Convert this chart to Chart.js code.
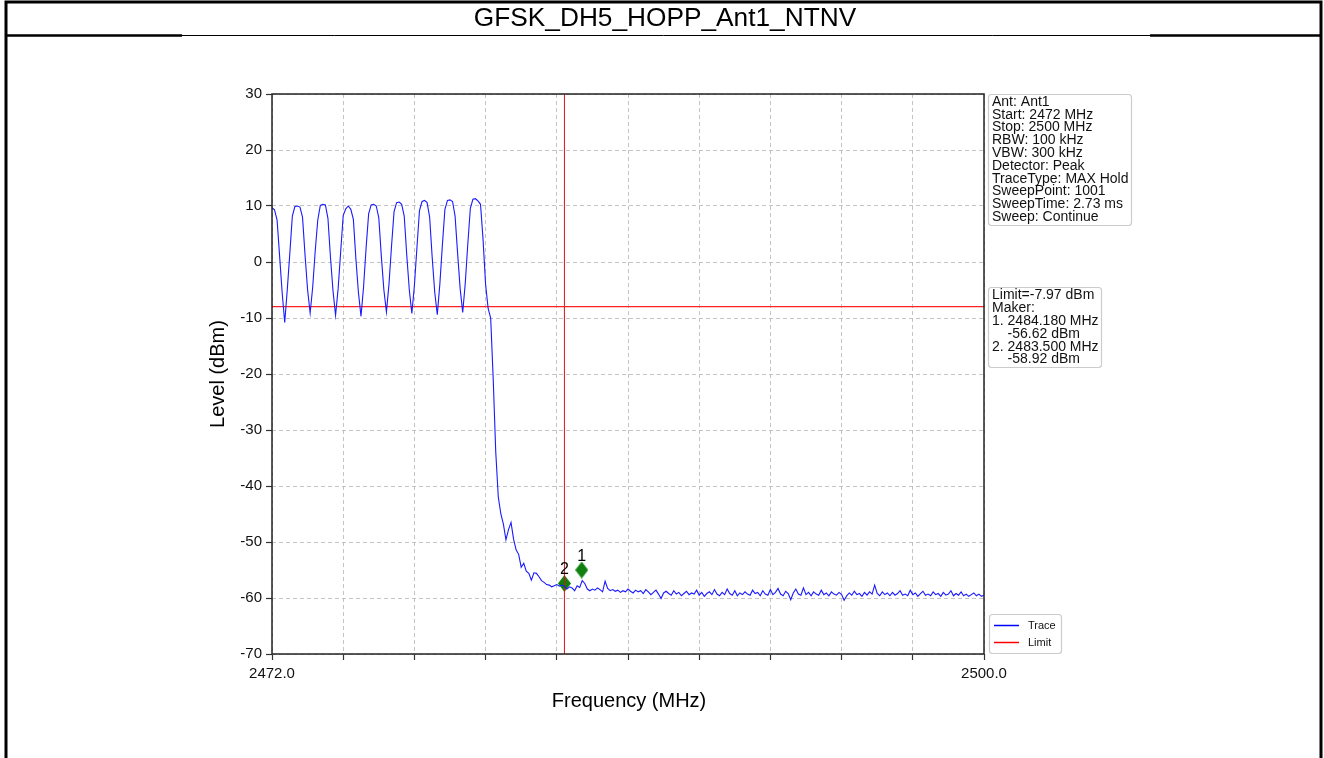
<!DOCTYPE html>
<html>
<head>
<meta charset="utf-8">
<title>GFSK_DH5_HOPP_Ant1_NTNV</title>
<script src="https://cdn.jsdelivr.net/npm/chart.js@4.4.0/dist/chart.umd.min.js"></script>
<style>
  body { margin: 0; background: #fff; }
  canvas { display: block; }
</style>
</head>
<body>
<canvas id="grafico" width="1324" height="758"></canvas>
<script>
// Barrido: 2472 - 2500 MHz, un punto cada 0.1 MHz
const freqInicio = 2472.0;
const freqPaso = 0.1;

// canales de salto (2472.0 .. 2480.4)
const nivelesSalto = [
  9.7, 9.3, 7.5, 1.0, -5.5, -10.8, -5.0, 1.5, 8.2, 9.9,
  10.0, 9.8, 8.0, 1.2, -5.0, -9.1, -4.5, 2.0, 7.5, 10.1,
  10.3, 10.2, 7.8, 0.8, -5.2, -9.5, -4.8, 1.8, 8.3, 9.5,
  10.0, 9.4, 7.6, 0.5, -5.5, -9.7, -4.5, 2.5, 8.6, 10.2,
  10.3, 10.0, 7.9, 1.0, -5.0, -8.9, -4.0, 2.8, 9.0, 10.6,
  10.7, 10.3, 8.2, 1.2, -5.0, -9.2, -4.2, 2.6, 9.2, 10.8,
  11.0, 10.6, 8.0, 0.8, -5.4, -9.4, -4.0, 3.0, 9.4, 11.0,
  11.1, 10.8, 8.2, 1.5, -4.8, -9.0, -3.8, 3.2, 9.6, 11.2,
  11.3, 10.9, 10.3, 4.0, -4.0
];

// caida del borde de banda (2480.5 .. 2484.5)
const nivelesCaida = [
  -8.3, -10.0, -21.0, -34.0, -42.0, -45.0, -46.8, -49.6, -47.8, -46.5,
  -49.5, -51.4, -52.2, -54.5, -53.8, -55.2, -55.6, -56.8, -55.5, -55.6,
  -56.2, -56.9, -57.2, -57.6, -57.7, -58.0, -57.8, -57.6, -57.9, -57.7,
  -57.9, -58.4, -58.0, -58.2, -58.7, -57.8, -58.1, -56.9, -57.4, -58.4,
  -58.7
];

// piso de ruido (2484.6 .. 2500.0)
const nivelesRuido = [
  -58.4, -58.6, -58.2, -58.5, -58.9, -57.0, -58.3, -58.7, -58.5, -58.8,
  -58.6, -59.0, -58.7, -58.9, -58.4, -58.8, -59.1, -58.6, -58.9, -58.7,
  -59.2, -58.5, -58.9, -59.4, -59.0, -58.6, -59.3, -60.1, -59.1, -58.8,
  -59.2, -59.5, -58.7, -59.3, -59.0, -59.6, -59.2, -58.8, -59.4, -59.1,
  -59.3, -58.6, -59.5, -59.0, -59.7, -59.2, -58.9, -59.4, -58.5, -59.3,
  -59.6, -59.0, -59.4, -58.4, -59.2, -59.5, -58.7, -59.6, -59.1, -59.4,
  -58.9, -59.3, -59.5, -58.6, -59.2, -59.0, -59.6, -58.7, -59.3, -59.5,
  -58.5, -59.4, -59.0, -58.3, -59.3, -59.6, -58.8, -59.2, -60.3, -59.1,
  -58.4, -59.3, -59.5, -58.2, -59.4, -59.0, -59.6, -58.9, -59.3, -59.5,
  -58.6, -59.4, -59.1, -59.6, -58.9, -59.3, -59.5, -59.0, -59.4, -60.4,
  -59.6, -59.1, -59.5, -58.8, -59.4, -59.2, -59.7, -59.0, -59.5, -58.9,
  -59.3, -57.7, -59.2, -59.6, -58.9, -59.4, -59.1, -59.6, -59.0, -59.5,
  -59.2, -58.7, -59.5, -59.3, -59.6, -58.6, -59.4, -59.1, -59.7, -59.2,
  -58.8, -59.5, -59.3, -59.6, -58.9, -59.4, -59.2, -59.7, -59.0, -59.5,
  -59.3, -58.7, -59.6, -59.2, -59.5, -58.9, -59.6, -59.3, -59.7, -59.4,
  -59.1, -59.6, -59.3, -59.7, -59.5
];

const limiteNivel = -7.97;
const lineaVerticalFreq = 2483.5;

const marcadorFreqs = [2484.18, 2483.5];
const marcadorNiveles = [-55.0, -57.4];
const marcadorEtiquetas = ["1", "2"];

const xTicks = [2472, 2474.8, 2477.6, 2480.4, 2483.2, 2486, 2488.8, 2491.6, 2494.4, 2497.2, 2500];
const xEtiquetas = ["2472.0", "", "", "", "", "", "", "", "", "", "2500.0"];
const yTicks = [30, 20, 10, 0, -10, -20, -30, -40, -50, -60, -70];

const infoLineas = [
  "Ant: Ant1", "Start: 2472 MHz", "Stop: 2500 MHz", "RBW: 100 kHz", "VBW: 300 kHz",
  "Detector: Peak", "TraceType: MAX Hold", "SweepPoint: 1001", "SweepTime: 2.73 ms", "Sweep: Continue"
];
const limiteLineas = [
  "Limit=-7.97 dBm", "Maker:", "1. 2484.180 MHz", "    -56.62 dBm", "2. 2483.500 MHz", "    -58.92 dBm"
];

const FUENTE = '"Liberation Sans", Arial, sans-serif';

const niveles = nivelesSalto.concat(nivelesCaida, nivelesRuido);
const traza = niveles.map((v, i) => ({ x: +(freqInicio + i * freqPaso).toFixed(1), y: v }));

// diamante fino como en matplotlib
function crearDiamante(w, h, color) {
  const c = document.createElement("canvas");
  c.width = w; c.height = h;
  const g = c.getContext("2d");
  g.fillStyle = color;
  g.beginPath();
  g.moveTo(w / 2, 0);
  g.lineTo(w, h / 2);
  g.lineTo(w / 2, h);
  g.lineTo(0, h / 2);
  g.closePath();
  g.fill();
  return c;
}
const diamante = crearDiamante(13, 17, "#118011");

function cajaRedondeada(ctx, x, y, w, h, r) {
  ctx.beginPath();
  ctx.moveTo(x + r, y);
  ctx.lineTo(x + w - r, y);
  ctx.quadraticCurveTo(x + w, y, x + w, y + r);
  ctx.lineTo(x + w, y + h - r);
  ctx.quadraticCurveTo(x + w, y + h, x + w - r, y + h);
  ctx.lineTo(x + r, y + h);
  ctx.quadraticCurveTo(x, y + h, x, y + h - r);
  ctx.lineTo(x, y + r);
  ctx.quadraticCurveTo(x, y, x + r, y);
  ctx.closePath();
  ctx.fillStyle = "#fff";
  ctx.fill();
  ctx.strokeStyle = "#cccccc";
  ctx.lineWidth = 1.2;
  ctx.stroke();
}

const decoracion = {
  id: "decoracion",
  beforeDraw(chart) {
    const ctx = chart.ctx;
    ctx.save();
    ctx.fillStyle = "#fff";
    ctx.fillRect(0, 0, chart.width, chart.height);
    ctx.restore();
  },
  afterDraw(chart) {
    const ctx = chart.ctx;
    const a = chart.chartArea;
    const xs = chart.scales.x;
    const ys = chart.scales.y;
    ctx.save();

    // marco exterior y fila del titulo
    ctx.strokeStyle = "#000";
    ctx.lineWidth = 3;
    ctx.beginPath();
    ctx.moveTo(6, 758); ctx.lineTo(6, 2); ctx.lineTo(1321, 2); ctx.lineTo(1321, 758);
    ctx.stroke();
    ctx.lineWidth = 1;
    ctx.beginPath();
    ctx.moveTo(6, 35.5); ctx.lineTo(1321, 35.5);
    ctx.stroke();
    ctx.lineWidth = 2.5;
    ctx.beginPath();
    ctx.moveTo(6, 35.5); ctx.lineTo(182, 35.5);
    ctx.moveTo(1150, 35.5); ctx.lineTo(1321, 35.5);
    ctx.stroke();

    ctx.fillStyle = "#000";
    ctx.textAlign = "center";
    ctx.textBaseline = "middle";
    ctx.font = "26px " + FUENTE;
    ctx.save();
    ctx.translate(665, 19);
    ctx.scale(1.01, 1);
    ctx.fillText("GFSK_DH5_HOPP_Ant1_NTNV", 0, 0);
    ctx.restore();

    // caja del grafico
    ctx.strokeStyle = "#222";
    ctx.lineWidth = 1.5;
    ctx.strokeRect(a.left, a.top, a.right - a.left, a.bottom - a.top);

    // titulos de ejes
    ctx.font = "20px " + FUENTE;
    ctx.fillText("Frequency (MHz)", (a.left + a.right) / 2 + 1, 701);
    ctx.save();
    ctx.translate(218, (a.top + a.bottom) / 2);
    ctx.rotate(-Math.PI / 2);
    ctx.fillText("Level (dBm)", 0, 0);
    ctx.restore();

    // numeros de los marcadores
    ctx.font = "16px " + FUENTE;
    ctx.textBaseline = "alphabetic";
    marcadorFreqs.forEach((f, i) => {
      const px = xs.getPixelForValue(f);
      const py = ys.getPixelForValue(marcadorNiveles[i]);
      ctx.fillText(marcadorEtiquetas[i], px, py - 9);
    });

    // caja de configuracion
    ctx.textAlign = "left";
    ctx.textBaseline = "middle";
    cajaRedondeada(ctx, 988.5, 94.5, 143, 131, 3);
    ctx.fillStyle = "#111";
    ctx.font = "14px " + FUENTE;
    infoLineas.forEach((t, i) => ctx.fillText(t, 992, 102 + i * 12.8));

    // caja del limite
    cajaRedondeada(ctx, 988.5, 287.5, 113, 80, 3);
    ctx.fillStyle = "#111";
    limiteLineas.forEach((t, i) => ctx.fillText(t, 992, 295.5 + i * 12.8));

    // leyenda
    cajaRedondeada(ctx, 989.5, 614.5, 72, 39, 3);
    ctx.lineWidth = 1.5;
    ctx.strokeStyle = "blue";
    ctx.beginPath(); ctx.moveTo(994, 625.5); ctx.lineTo(1019, 625.5); ctx.stroke();
    ctx.strokeStyle = "red";
    ctx.beginPath(); ctx.moveTo(994, 642.5); ctx.lineTo(1019, 642.5); ctx.stroke();
    ctx.fillStyle = "#111";
    ctx.font = "11px " + FUENTE;
    ctx.fillText("Trace", 1028, 626);
    ctx.fillText("Limit", 1028, 643);

    ctx.restore();
  }
};

new Chart(document.getElementById("grafico"), {
  type: "line",
  data: {
    datasets: [
      {
        label: "Trace",
        data: traza,
        borderColor: "#1a1aff",
        borderWidth: 1.1,
        pointRadius: 0,
        tension: 0
      },
      {
        label: "Limit",
        data: [{ x: 2472, y: limiteNivel }, { x: 2500, y: limiteNivel }],
        borderColor: "#ff2222",
        borderWidth: 1.2,
        pointRadius: 0
      },
      {
        label: "Vertical",
        data: [{ x: lineaVerticalFreq, y: -70 }, { x: lineaVerticalFreq, y: 30 }],
        borderColor: "#dd1111",
        borderWidth: 1,
        pointRadius: 0
      },
      {
        label: "Markers",
        data: marcadorFreqs.map((f, i) => ({ x: f, y: marcadorNiveles[i] })),
        showLine: false,
        pointStyle: diamante,
        pointRadius: 8
      }
    ]
  },
  options: {
    responsive: false,
    animation: false,
    events: [],
    layout: { padding: { left: 212, right: 340, top: 94, bottom: 74 } },
    plugins: { legend: { display: false }, tooltip: { enabled: false }, title: { display: false } },
    scales: {
      x: {
        type: "linear",
        min: 2472,
        max: 2500,
        afterFit(scale) { scale.height = 30; },
        afterBuildTicks(scale) { scale.ticks = xTicks.map((v) => ({ value: v })); },
        ticks: {
          color: "#111",
          font: { family: FUENTE, size: 15 },
          padding: 5,
          maxRotation: 0,
          autoSkip: false,
          callback: (v, i) => xEtiquetas[i]
        },
        grid: {
          color: "#b5b5b5",
          lineWidth: 0.8,
          tickLength: 6,
          tickColor: "#333",
          tickWidth: 1.2,
          tickBorderDash: []
        },
        border: { display: false, dash: [4, 3] }
      },
      y: {
        type: "linear",
        min: -70,
        max: 30,
        afterFit(scale) { scale.width = 60; },
        afterBuildTicks(scale) { scale.ticks = yTicks.map((v) => ({ value: v })); },
        ticks: {
          color: "#111",
          font: { family: FUENTE, size: 15 },
          padding: 4,
          callback: (v) => String(v)
        },
        grid: {
          color: "#b5b5b5",
          lineWidth: 0.8,
          tickLength: 6,
          tickColor: "#333",
          tickWidth: 1.2,
          tickBorderDash: []
        },
        border: { display: false, dash: [4, 3] }
      }
    }
  },
  plugins: [decoracion]
});
</script>
</body>
</html>
